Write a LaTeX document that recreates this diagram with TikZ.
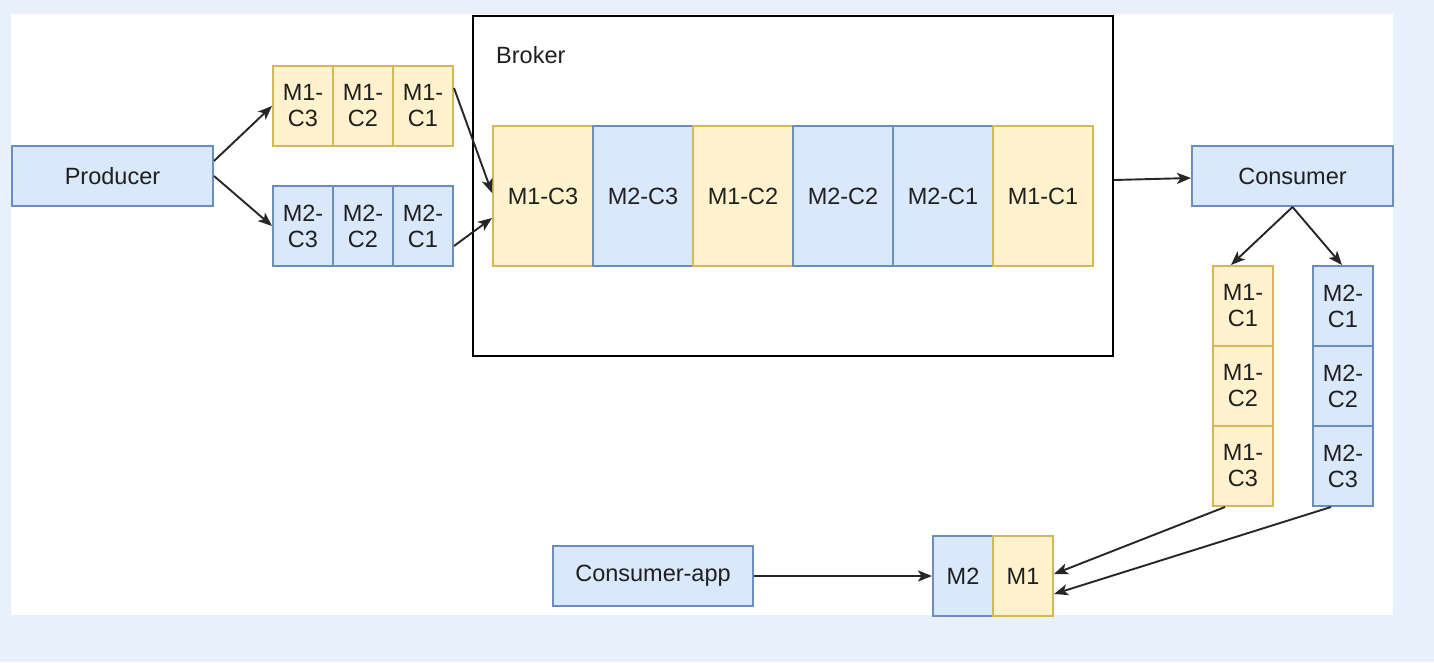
\documentclass[tikz,border=0pt]{standalone}
\usepackage{fontspec}
\setmainfont{Liberation Sans}
\usetikzlibrary{arrows.meta}
\definecolor{pagebg}{HTML}{E7F0FB}
\definecolor{yfill}{HTML}{FFF2CC}
\definecolor{ydraw}{HTML}{D6B656}
\definecolor{bfill}{HTML}{DAE8FC}
\definecolor{bdraw}{HTML}{6C8EBF}
\tikzset{
  lbl/.style={font=\fontsize{23.5}{26}\selectfont, text=black!88},
  box/.style={draw, line width=2pt, inner sep=0pt, anchor=north west,
    align=center, lbl},
  ybox/.style={box, fill=yfill, draw=ydraw},
  bbox/.style={box, fill=bfill, draw=bdraw},
  cell/.style={minimum width=60pt, minimum height=80pt},
  bcell/.style={minimum width=100pt, minimum height=140pt},
  wide/.style={minimum width=201pt, minimum height=60pt},
  arr/.style={-{Stealth[length=14pt,width=11pt,inset=3.5pt]}, line width=1.9pt, black!85},
}
\begin{document}
\begin{tikzpicture}[x=1pt,y=-1pt]
  % page background and white canvas
  \fill[pagebg] (0,0) rectangle (1434,662);
  \fill[white] (11,14) rectangle (1393,615);
  \useasboundingbox (0,0) rectangle (1434,662);

  % producer and its two chunk rows
  \node[bbox, wide] (producer) at (11,145) {Producer};
  \node[ybox, cell] (a3) at (272,65) {M1-\\C3};
  \node[ybox, cell] (a2) at (332,65) {M1-\\C2};
  \node[ybox, cell] (a1) at (392,65) {M1-\\C1};
  \node[bbox, cell] (b3) at (272,185) {M2-\\C3};
  \node[bbox, cell] (b2) at (332,185) {M2-\\C2};
  \node[bbox, cell] (b1) at (392,185) {M2-\\C1};

  % broker with its queue
  \node[draw, line width=2pt, anchor=north west, minimum width=640pt,
        minimum height=340pt, inner sep=0pt] (broker) at (472,15) {};
  \node[anchor=west, inner sep=0pt, lbl] (brokerlabel) at (496,55) {Broker};
  \node[ybox, bcell] (q1) at (492,125) {M1-C3};
  \node[bbox, bcell] (q2) at (592,125) {M2-C3};
  \node[ybox, bcell] (q3) at (692,125) {M1-C2};
  \node[bbox, bcell] (q4) at (792,125) {M2-C2};
  \node[bbox, bcell] (q5) at (892,125) {M2-C1};
  \node[ybox, bcell] (q6) at (992,125) {M1-C1};

  % consumer and its two chunk columns
  \node[bbox, wide] (consumer) at (1191,145) {Consumer};
  \node[ybox, cell] (v1) at (1212,265) {M1-\\C1};
  \node[ybox, cell] (v2) at (1212,345) {M1-\\C2};
  \node[ybox, cell] (v3) at (1212,425) {M1-\\C3};
  \node[bbox, cell] (w1) at (1312,265) {M2-\\C1};
  \node[bbox, cell] (w2) at (1312,345) {M2-\\C2};
  \node[bbox, cell] (w3) at (1312,425) {M2-\\C3};

  % consumer application and reassembled messages
  \node[bbox, minimum width=200pt, minimum height=60pt] (capp) at (552,545) {Consumer-app};
  \node[bbox, cell] (m2) at (932,535) {M2};
  \node[ybox, cell] (m1) at (992,535) {M1};

  % connectors
  \draw[arr] ([yshift=15pt]producer.east) -- (a3.west);
  \draw[arr] (producer.east) -- (b3.west);
  \draw[arr] ([yshift=18pt]a1.east) -- ([yshift=3pt]q1.west);
  \draw[arr] ([yshift=-20pt]b1.east) -- ([yshift=-22pt]q1.west);
  \draw[arr] ([yshift=6pt]broker.east) -- ([yshift=-2pt]consumer.west);
  \draw[arr] (consumer.south) -- ([xshift=-12pt]v1.north);
  \draw[arr] (consumer.south) -- ([xshift=-1pt]w1.north);
  \draw[arr] ([xshift=-18pt]v3.south) -- ([yshift=2pt]m1.east);
  \draw[arr] ([xshift=-12pt]w3.south) -- ([yshift=-18pt]m1.east);
  \draw[arr] (capp.east) -- (m2.west);
\end{tikzpicture}
\end{document}
